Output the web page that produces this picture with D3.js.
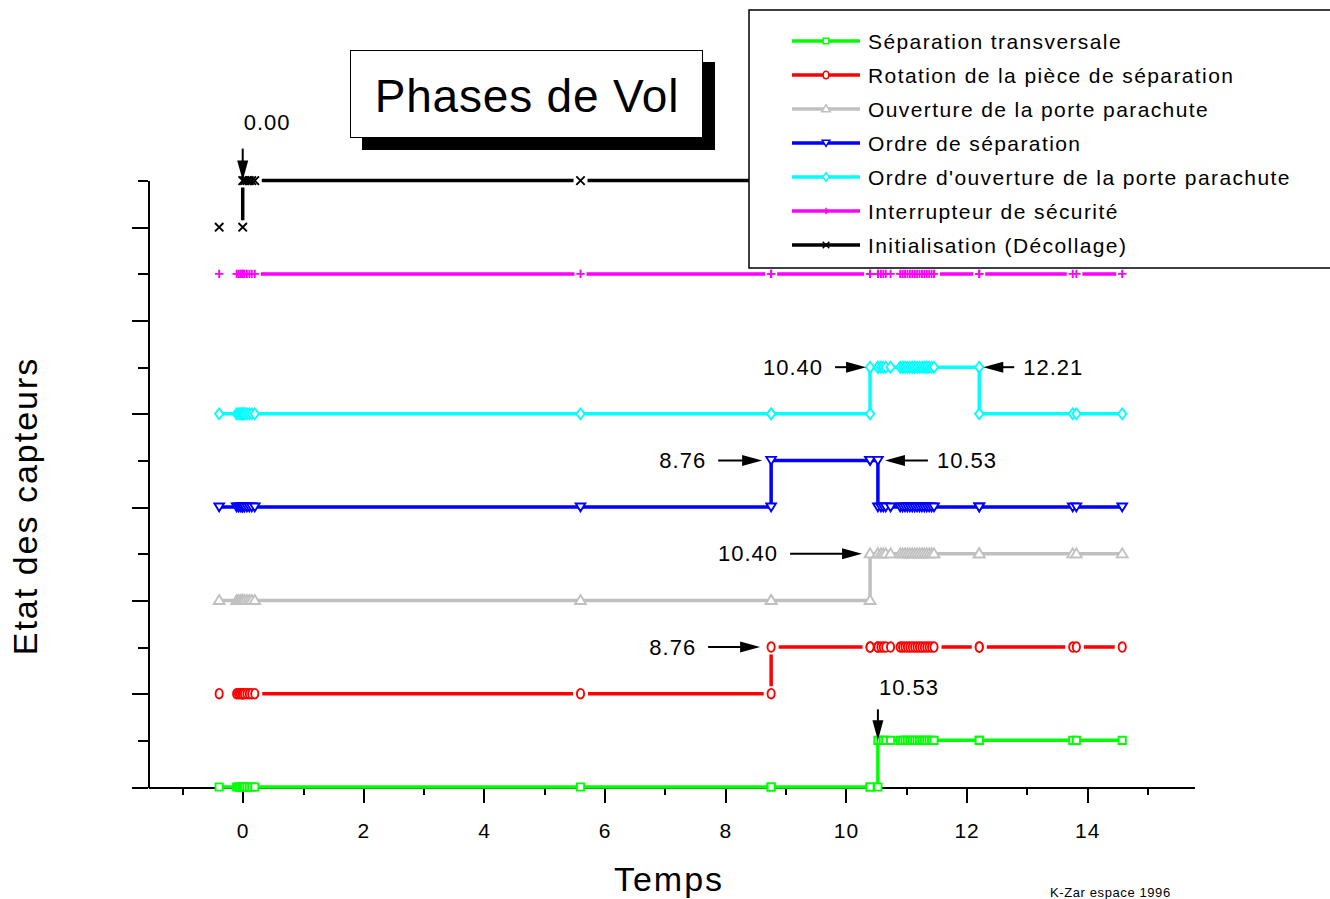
<!DOCTYPE html>
<html>
<head>
<meta charset="utf-8">
<script src="https://cdn.jsdelivr.net/npm/d3@7"></script>
<style>
  body { margin: 0; background: #fff; }
  svg text { font-family: "Liberation Sans", Arial, sans-serif; }
</style>
</head>
<body>
<div class="chart"></div>
<script>

// temps d'echantillonnage (s), commun a tous les capteurs
var times = [-0.39, -0.1, -0.07, -0.04, -0.01, 0, 0, 0.03, 0.07, 0.11, 0.15, 0.2,
  5.6, 8.76, 8.76, 10.4, 10.4, 10.53, 10.53,
  10.58, 10.62, 10.66, 10.74,
  10.9, 10.94, 10.98, 11.02, 11.06, 11.1, 11.14, 11.18, 11.22, 11.26, 11.3, 11.34, 11.38, 11.42, 11.46,
  12.21, 12.21, 13.76, 13.82, 14.58];

// etats 0/1 de chaque capteur (null = pas de mesure)
var sepTransversale = [0,0,0,0,0,0,0,0,0,0,0,0,
  0,0,0,0,0,0,1,
  1,1,1,1,
  1,1,1,1,1,1,1,1,1,1,1,1,1,1,1,
  1,1,1,1,1];
var rotationPiece = [0,0,0,0,0,0,0,0,0,0,0,0,
  0,0,1,1,1,1,1,
  1,1,1,1,
  1,1,1,1,1,1,1,1,1,1,1,1,1,1,1,
  1,1,1,1,1];
var ouverturePorte = [0,0,0,0,0,0,0,0,0,0,0,0,
  0,0,0,0,1,1,1,
  1,1,1,1,
  1,1,1,1,1,1,1,1,1,1,1,1,1,1,1,
  1,1,1,1,1];
var ordreSeparation = [0,0,0,0,0,0,0,0,0,0,0,0,
  0,0,1,1,1,1,0,
  0,0,0,0,
  0,0,0,0,0,0,0,0,0,0,0,0,0,0,0,
  0,0,0,0,0];
var ordreOuverture = [0,0,0,0,0,0,0,0,0,0,0,0,
  0,0,0,0,1,1,1,
  1,1,1,1,
  1,1,1,1,1,1,1,1,1,1,1,1,1,1,1,
  1,0,0,0,0];
var interrupteur = [1,1,1,1,1,1,1,1,1,1,1,1,
  1,1,1,1,1,1,1,
  1,1,1,1,
  1,1,1,1,1,1,1,1,1,1,1,1,1,1,1,
  1,1,1,1,1];
var initialisation = [0,null,null,null,null,0,1,1,1,1,1,1,
  1,1,1,1,1,1,1,
  1,1,1,1,
  1,1,1,1,1,1,1,1,1,1,1,1,1,1,1,
  1,1,1,1,1];

var seriesNames = ["Séparation transversale", "Rotation de la pièce de séparation",
  "Ouverture de la porte parachute", "Ordre de séparation",
  "Ordre d'ouverture de la porte parachute", "Interrupteur de sécurité",
  "Initialisation (Décollage)"];
var seriesStates = [sepTransversale, rotationPiece, ouverturePorte, ordreSeparation,
  ordreOuverture, interrupteur, initialisation];
var offsets = [0, 1, 2, 3, 4, 5, 6];      // decalage vertical de chaque capteur
var joinFirst = [true, false, true, true, true, false, false];

// evenements annotes
var annTimes = [0, 10.40, 12.21, 8.76, 10.53, 10.40, 8.76, 10.53];
var annSeries = [6, 4, 4, 3, 3, 2, 1, 0];
var annDirs = ["down", "right", "left", "right", "left", "right", "right", "down"];

var xTicksMajor = [0, 2, 4, 6, 8, 10, 12, 14];
var xTicksMinor = [-1, 1, 3, 5, 7, 9, 11, 13, 15];
var yTicksMajor = [0, 1, 2, 3, 4, 5, 6];
var yTicksMinor = [0.5, 1.5, 2.5, 3.5, 4.5, 5.5, 6.5];

// styles
var colors = ["#00ff00", "#ff0000", "#c0c0c0", "#0000ff", "#00ffff", "#ff00ff", "#000000"];
var shapes = ["square", "circle", "triUp", "triDown", "diamond", "plus", "cross"];
var gaps = [0, 7.5, 0, 0, 0, 6, 7];
var annLen = [32, 31, 31, 44, 43, 72, 52, 31];
var annOff = [0, 4, 4, 9, 7, 8, 11, 0];

function markerPath(shape, k){
  function n(v){ return (v*k).toFixed(2); }
  switch(shape){
    case "square": return "M"+n(-3)+","+n(-3)+"H"+n(3)+"V"+n(3)+"H"+n(-3)+"Z";
    case "circle": return "M"+n(-3)+",0A"+n(3)+","+n(4)+" 0 1,0 "+n(3)+",0A"+n(3)+","+n(4)+" 0 1,0 "+n(-3)+",0Z";
    case "triUp": return "M0,"+n(-4.5)+"L"+n(4.5)+","+n(3)+"L"+n(-4.5)+","+n(3)+"Z";
    case "triDown": return "M0,"+n(3.5)+"L"+n(4)+","+n(-3)+"L"+n(-4)+","+n(-3)+"Z";
    case "diamond": return "M0,"+n(-4.5)+"L"+n(3.5)+",0L0,"+n(4.5)+"L"+n(-3.5)+",0Z";
    case "plus": return "M"+n(-3.5)+",0H"+n(3.5)+"M0,"+n(-3.5)+"V"+n(3.5);
    case "cross": return "M"+n(-3.5)+","+n(-3.5)+"L"+n(3.5)+","+n(3.5)+"M"+n(-3.5)+","+n(3.5)+"L"+n(3.5)+","+n(-3.5);
  }
}

var svg = d3.select(".chart").append("svg")
  .attr("width", 1330)
  .attr("height", 899);

var x = d3.scaleLinear().domain([-1.57, 15.77]).range([148, 1194]);
var y = d3.scaleLinear().domain([0, 6.5]).range([787, 180.6]);

// axes
var xMinor = svg.append("g").attr("transform", "translate(0,787)")
  .call(d3.axisBottom(x).tickValues(xTicksMinor).tickSize(8).tickSizeOuter(0).tickFormat(""));
var xMajor = svg.append("g").attr("transform", "translate(0,787)")
  .call(d3.axisBottom(x).tickValues(xTicksMajor).tickSize(16).tickSizeOuter(0).tickPadding(20)
    .tickFormat(d3.format("d")));
var yMinor = svg.append("g").attr("transform", "translate(148,0)")
  .call(d3.axisLeft(y).tickValues(yTicksMinor).tickSize(10).tickSizeOuter(0).tickFormat(""));
var yMajor = svg.append("g").attr("transform", "translate(148,0)")
  .call(d3.axisLeft(y).tickValues(yTicksMajor).tickSize(16).tickSizeOuter(0).tickFormat(""));

svg.selectAll(".domain, .tick line")
  .attr("stroke", "#000")
  .attr("stroke-width", 2)
  .attr("shape-rendering", "crispEdges");
xMajor.selectAll("text")
  .attr("font-size", "21px")
  .attr("letter-spacing", "1px")
  .attr("fill", "#000");

// series
seriesStates.forEach(function(states, s){
  var pts = [];
  for(var i=0; i<times.length; i++){
    if(states[i] !== null){
      pts.push([x(times[i]), y(offsets[s] + states[i]*0.5)]);
    }
  }
  var start = joinFirst[s] ? 0 : 1;
  var g = svg.append("g").attr("class", "serie");
  var d;
  if(gaps[s] === 0){
    d = d3.line()(pts.slice(start));
  } else {
    var gp = gaps[s];
    d = "";
    for(var j=start; j<pts.length-1; j++){
      var dx = pts[j+1][0]-pts[j][0], dy = pts[j+1][1]-pts[j][1];
      var len = Math.sqrt(dx*dx+dy*dy);
      if(len > 2*gp + 0.5){
        var ux = dx/len, uy = dy/len;
        d += "M"+(pts[j][0]+ux*gp)+","+(pts[j][1]+uy*gp)
          +"L"+(pts[j+1][0]-ux*gp)+","+(pts[j+1][1]-uy*gp);
      }
    }
  }
  g.append("path")
    .attr("d", d)
    .attr("fill", "none")
    .attr("stroke", colors[s])
    .attr("stroke-width", 3.5);

  g.selectAll(".pt")
    .data(pts)
    .enter()
    .append("path")
    .attr("class", "pt")
    .attr("transform", function(p){return "translate("+p[0]+","+p[1]+")";})
    .attr("d", markerPath(shapes[s], 1.2))
    .attr("fill", "#fff")
    .attr("stroke", colors[s])
    .attr("stroke-width", 1.9);
});

// annotations
var arrows = svg.append("g");
annTimes.forEach(function(t, a){
  var px = x(t), py = y(offsets[annSeries[a]] + 0.5);
  var tipX, tipY, tailX, tailY, label = t.toFixed(2);
  if(annDirs[a] === "down"){
    tipX = px; tipY = py - annOff[a];
    tailX = px; tailY = tipY - annLen[a];
  } else if(annDirs[a] === "right"){
    tipX = px - annOff[a]; tipY = py;
    tailX = tipX - annLen[a]; tailY = py;
  } else {
    tipX = px + annOff[a]; tipY = py;
    tailX = tipX + annLen[a]; tailY = py;
  }
  var ux = (tipX-tailX)/annLen[a], uy = (tipY-tailY)/annLen[a];
  var hl = 20, hw = 5.5;
  arrows.append("line")
    .attr("x1", tailX).attr("y1", tailY)
    .attr("x2", tipX - ux*10).attr("y2", tipY - uy*10)
    .attr("stroke", "#000").attr("stroke-width", 2);
  var bx = tipX - ux*hl, by = tipY - uy*hl;
  arrows.append("path")
    .attr("d", "M"+tipX+","+tipY+"L"+(bx - uy*hw)+","+(by + ux*hw)
      +"L"+(bx + uy*hw)+","+(by - ux*hw)+"Z")
    .attr("fill", "#000");

  var txt = arrows.append("text")
    .attr("font-size", "22px")
    .attr("letter-spacing", "1px")
    .attr("fill", "#000")
    .text(label);
  if(annDirs[a] === "down"){
    txt.attr("x", tailX + 1).attr("y", tailY - (a === 0 ? 19 : 14));
  } else if(annDirs[a] === "right"){
    txt.attr("x", tailX - 12).attr("y", tailY + 7.5).attr("text-anchor", "end");
  } else {
    txt.attr("x", tailX + 9).attr("y", tailY + 7.5);
  }
});

// titre
svg.append("rect")
  .attr("x", 362).attr("y", 62).attr("width", 353).attr("height", 88)
  .attr("fill", "#000");
svg.append("rect")
  .attr("x", 350.5).attr("y", 50.5).attr("width", 352).attr("height", 87)
  .attr("fill", "#fff").attr("stroke", "#000").attr("stroke-width", 1);
svg.append("text")
  .attr("x", 527).attr("y", 112)
  .attr("text-anchor", "middle")
  .attr("font-size", "46px")
  .attr("letter-spacing", "0.8px")
  .text("Phases de Vol");

// legende
var legend = svg.append("g");
legend.append("rect")
  .attr("x", 749).attr("y", 10).attr("width", 640).attr("height", 258)
  .attr("fill", "#fff").attr("stroke", "#000").attr("stroke-width", 1.5);
var rows = legend.selectAll(".row")
  .data(seriesNames)
  .enter()
  .append("g")
  .attr("class", "row")
  .attr("transform", function(d,i){return "translate(0,"+(41+34*i)+")";});
rows.append("line")
  .attr("x1", 792).attr("x2", 860)
  .attr("stroke", function(d,i){return colors[i];})
  .attr("stroke-width", 3.5);
rows.append("path")
  .attr("transform", "translate(826,0)")
  .attr("d", function(d,i){return markerPath(shapes[i], 0.95);})
  .attr("fill", "#fff")
  .attr("stroke", function(d,i){return colors[i];})
  .attr("stroke-width", 1.5);
rows.append("text")
  .attr("x", 868).attr("y", 7.5)
  .attr("font-size", "21px")
  .attr("letter-spacing", "1.4px")
  .text(function(d){return d;});

// titres des axes
svg.append("text")
  .attr("transform", "translate(37,506) rotate(-90)")
  .attr("text-anchor", "middle")
  .attr("font-size", "34px")
  .attr("letter-spacing", "2px")
  .text("Etat des capteurs");
svg.append("text")
  .attr("x", 669).attr("y", 891)
  .attr("text-anchor", "middle")
  .attr("font-size", "34px")
  .attr("letter-spacing", "2px")
  .text("Temps");
svg.append("text")
  .attr("x", 1050).attr("y", 897)
  .attr("font-size", "13px")
  .attr("letter-spacing", "0.6px")
  .text("K-Zar espace 1996");

</script>
</body>
</html>
